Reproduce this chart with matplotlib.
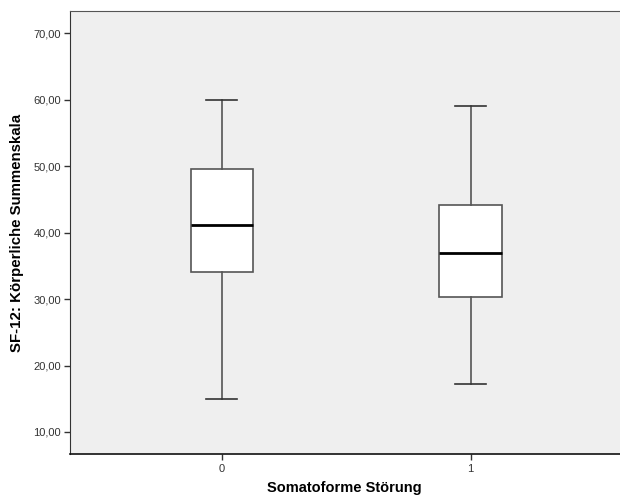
import matplotlib
matplotlib.use("Agg")
import matplotlib.pyplot as plt

plt.rcParams['font.family'] = ['Liberation Sans', 'DejaVu Sans']

categories = ["0", "1"]
whislo = [14.9, 17.2]
q1 = [34.1, 30.3]
med = [41.1, 36.9]
q3 = [49.6, 44.2]
whishi = [60.0, 59.1]
yticks = [10, 20, 30, 40, 50, 60, 70]

stats = []
for i, c in enumerate(categories):
    stats.append(dict(label=c, whislo=whislo[i], q1=q1[i], med=med[i],
                      q3=q3[i], whishi=whishi[i], fliers=[]))

fig = plt.figure(figsize=(6.2, 4.99), dpi=100)
ax = fig.add_axes([0.1121, 0.0902, 0.8879, 0.8878])
ax.set_facecolor('#efefef')

ax.bxp(stats, positions=[0, 1], widths=0.251, patch_artist=True,
       showfliers=False,
       boxprops=dict(facecolor='white', edgecolor='#555555', linewidth=1.2),
       whiskerprops=dict(color='#555555', linewidth=1.2),
       capprops=dict(color='#333333', linewidth=1.2),
       medianprops=dict(color='black', linewidth=2),
       capwidths=0.125)

ax.set_xlim(-0.612, 1.6)
ax.set_ylim(6.69, 73.36)
ax.set_yticks(yticks)
ax.set_yticklabels([f"{v:.2f}".replace('.', ',') for v in yticks])
ax.set_xticks([0, 1])
ax.set_xticklabels(categories)

ax.spines['right'].set_visible(False)
ax.spines['top'].set_color('#555555')
ax.spines['left'].set_color('#333333')
ax.spines['bottom'].set_color('#111111')
ax.spines['bottom'].set_linewidth(1.2)

ax.tick_params(axis='both', labelsize=8, colors='#333333', length=4, width=1)
ax.tick_params(axis='y', pad=2)
ax.tick_params(axis='x', pad=3)

ax.set_xlabel('Somatoforme Störung', fontsize=10.5, fontweight='bold', labelpad=5)
ax.set_ylabel('SF-12: Körperliche Summenskala', fontsize=10.8, fontweight='bold', labelpad=7)

fig.savefig('out.png', dpi=100)
